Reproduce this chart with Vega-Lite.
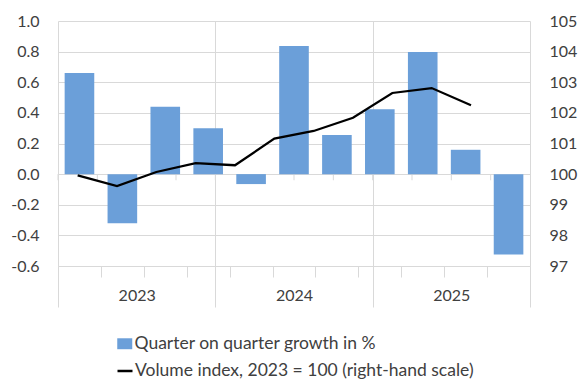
{
  "$schema": "https://vega.github.io/schema/vega-lite/v6.json",
  "width": 472,
  "height": 245,
  "autosize": {"type": "none"},
  "padding": {"left": 58, "top": 21, "right": 58, "bottom": 113},
  "background": "white",
  "config": {
    "view": {"stroke": null},
    "font": "Lato",
    "axis": {"labelFont": "Lato", "labelFontSize": 16, "labelColor": "#404040", "gridColor": "#d9d9d9", "tickColor": "#d9d9d9"},
    "legend": {"labelFont": "Lato", "labelFontSize": 17.5, "labelColor": "#404040", "padding": 0, "labelOffset": 1, "labelLimit": 500}
  },
  "datasets": {
    "q": [
      {"quarter": "2023 Q1", "year": "2023", "growth": 0.66, "index": 99.96},
      {"quarter": "2023 Q2", "year": "2023", "growth": -0.32, "index": 99.61},
      {"quarter": "2023 Q3", "year": "2023", "growth": 0.44, "index": 100.07},
      {"quarter": "2023 Q4", "year": "2023", "growth": 0.30, "index": 100.36},
      {"quarter": "2024 Q1", "year": "2024", "growth": -0.065, "index": 100.29},
      {"quarter": "2024 Q2", "year": "2024", "growth": 0.837, "index": 101.16},
      {"quarter": "2024 Q3", "year": "2024", "growth": 0.255, "index": 101.41},
      {"quarter": "2024 Q4", "year": "2024", "growth": 0.423, "index": 101.84},
      {"quarter": "2025 Q1", "year": "2025", "growth": 0.797, "index": 102.65},
      {"quarter": "2025 Q2", "year": "2025", "growth": 0.159, "index": 102.81},
      {"quarter": "2025 Q3", "year": "2025", "growth": -0.525, "index": 102.25},
      {"quarter": "2025 Q4", "year": "2025", "growth": null, "index": null}
    ]
  },
  "data": {"name": "q"},
  "layer": [
    {
      "mark": {"type": "rule", "color": "#d9d9d9", "strokeWidth": 1},
      "encoding": {
        "x": {"field": "quarter", "type": "nominal", "sort": null, "bandPosition": 0, "scale": {"paddingInner": 0, "paddingOuter": 0}, "axis": null},
        "y": {"datum": 0, "type": "quantitative", "scale": {"domain": [-0.6, 1.0], "nice": false, "zero": false}, "axis": null},
        "y2": {"datum": -0.04}
      }
    },
    {
      "mark": {"type": "bar", "width": {"band": 0.69}},
      "encoding": {
        "x": {"field": "quarter", "type": "nominal", "sort": null, "scale": {"paddingInner": 0, "paddingOuter": 0},
          "axis": {"orient": "bottom", "labels": false, "domain": false, "ticks": true, "tickBand": "extent", "tickSize": 11, "grid": false, "title": null}},
        "y": {"field": "growth", "type": "quantitative", "scale": {"domain": [-0.6, 1.0], "nice": false, "zero": false},
          "axis": {"orient": "left", "values": [-0.6, -0.4, -0.2, 0, 0.2, 0.4, 0.6, 0.8, 1.0], "labelExpr": "replace(format(datum.value, '.1f'), '−', '-')", "grid": true, "domain": false, "ticks": false, "labelPadding": 19, "title": null}},
        "fill": {"datum": "Quarter on quarter growth in %", "type": "nominal", "scale": {"range": ["#6b9fd9"]},
          "legend": {"orient": "none", "legendX": 58, "legendY": 314, "title": null, "symbolType": "M-1,-0.73H1V0.73H-1Z", "symbolSize": 225, "symbolStrokeWidth": 0}}
      }
    },
    {
      "mark": {"type": "line", "strokeWidth": 2.25},
      "encoding": {
        "x": {"field": "quarter", "type": "nominal", "sort": null, "scale": {"paddingInner": 0, "paddingOuter": 0}, "axis": null},
        "y": {"field": "index", "type": "quantitative", "scale": {"domain": [97, 105], "nice": false, "zero": false},
          "axis": {"orient": "right", "values": [97, 98, 99, 100, 101, 102, 103, 104, 105], "format": "d", "grid": false, "domain": false, "ticks": false, "labelPadding": 19, "title": null}},
        "stroke": {"datum": "Volume index, 2023 = 100 (right-hand scale)", "type": "nominal", "scale": {"range": ["#000000"]},
          "legend": {"orient": "none", "legendX": 58, "legendY": 341, "title": null, "symbolType": "stroke", "symbolSize": 225, "symbolStrokeWidth": 2.5}}
      }
    },
    {
      "mark": {"type": "point", "opacity": 0},
      "encoding": {
        "x": {"field": "year", "type": "nominal", "scale": {"paddingInner": 0, "paddingOuter": 0},
          "axis": {"orient": "bottom", "tickBand": "extent", "tickSize": 41, "grid": true, "domain": false, "labelPadding": -7, "labelBaseline": "alphabetic", "labelAngle": 0, "title": null}}
      }
    }
  ],
  "resolve": {"scale": {"x": "independent", "y": "independent"}, "axis": {"x": "independent", "y": "independent"}}
}
